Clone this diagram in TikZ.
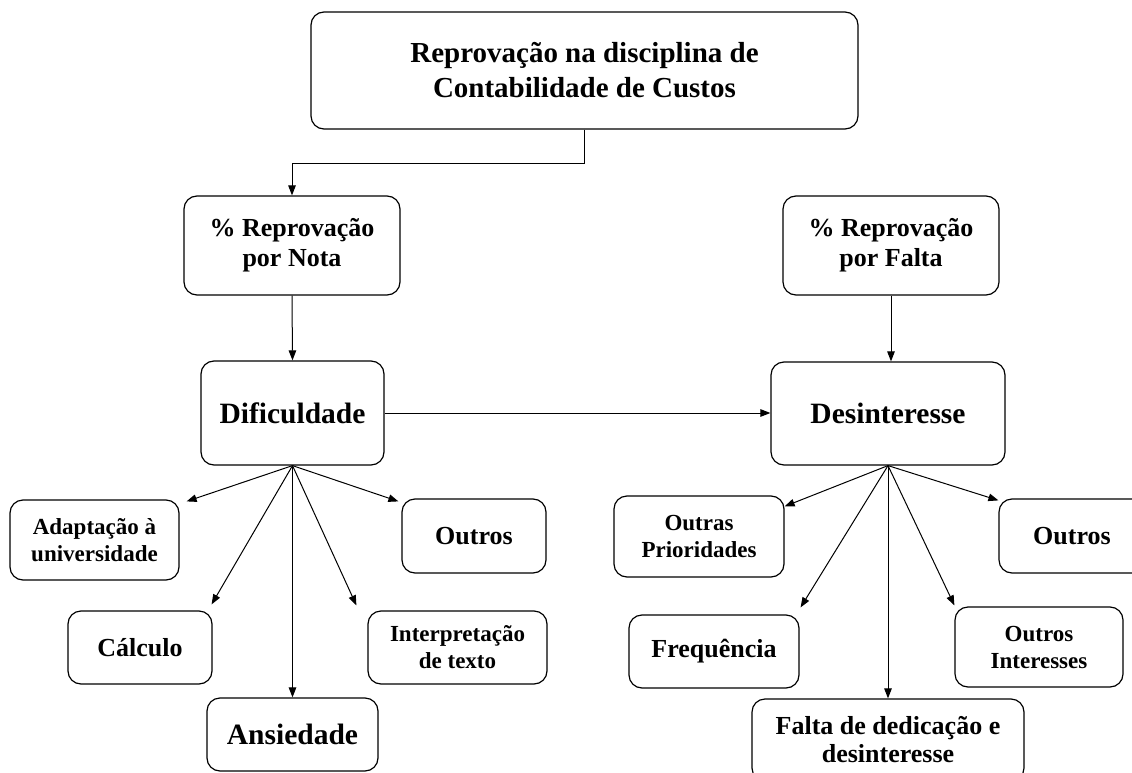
\documentclass[tikz,border=0pt]{standalone}
\usepackage{fontspec}
\setmainfont{Liberation Serif}
\usetikzlibrary{arrows.meta,calc}
\begin{document}
\begin{tikzpicture}[x=1pt,y=-1pt,
  box/.style={draw, line width=1.2pt, rounded corners=13pt, align=center, inner sep=0pt},
  arr/.style={-{Triangle[length=10pt,width=7.5pt]}, line width=1pt},
  ftop/.style={font=\fontsize{29}{35}\selectfont\bfseries},
  fmid/.style={font=\fontsize{29.5}{34}\selectfont\bfseries},
  fpct/.style={font=\fontsize{26}{30}\selectfont\bfseries},
  fsix/.style={font=\fontsize{26}{28}\selectfont\bfseries},
  fsmall/.style={font=\fontsize{23}{27}\selectfont\bfseries}
]
\useasboundingbox (0,0) rectangle (1132,773);
\clip (0,0) rectangle (1132,773);

\node[box, ftop, minimum width=547pt, minimum height=117pt] (top) at (584.5,70.5)
  {Reprovação na disciplina de\\Contabilidade de Custos};
\node[box, fpct, minimum width=216pt, minimum height=99pt] (nota) at (292,245.5)
  {\% Reprovação\\por Nota};
\node[box, fpct, minimum width=216pt, minimum height=99pt] (falta) at (891,245.5)
  {\% Reprovação\\por Falta};
\node[box, fmid, minimum width=183pt, minimum height=104pt] (dif) at (292.5,413)
  {Dificuldade};
\node[box, fmid, minimum width=234pt, minimum height=103pt] (des) at (888,413.5)
  {Desinteresse};

% left group
\node[box, fsmall, minimum width=169pt, minimum height=80pt] (adapt) at (94.5,540)
  {Adaptação à\\universidade};
\node[box, fsix, minimum width=144pt, minimum height=74pt] (outl) at (474,536)
  {Outros};
\node[box, fsix, minimum width=144pt, minimum height=73pt] (calc) at (140,647.5)
  {Cálculo};
\node[box, fmid, minimum width=171pt, minimum height=73pt] (ans) at (292.5,734.5)
  {Ansiedade};
\node[box, fsmall, minimum width=179pt, minimum height=73pt] (interp) at (457.5,647.5)
  {Interpretação\\de texto};

% right group
\node[box, fsmall, minimum width=170pt, minimum height=81pt] (outp) at (699,536.5)
  {Outras\\Prioridades};
\node[box, fsix, minimum width=146pt, minimum height=74pt] (outr) at (1072,536)
  {Outros};
\node[box, fsix, minimum width=170pt, minimum height=73pt] (freq) at (714,651.5)
  {Frequência};
\node[box, fsix, minimum width=272pt, minimum height=82pt] (fded) at (888,740)
  {Falta de dedicação e\\desinteresse};
\node[box, fsmall, minimum width=168pt, minimum height=80pt] (outi) at (1039,647)
  {Outros\\Interesses};

% connectors
\draw[arr] (top.south) -- ++(0,34) -| (nota.north);
\draw[arr] (nota.south) -- (dif.north);
\draw[arr] (falta.south) -- (falta.south |- des.north);
\draw[arr] (dif.east) -- (dif.east -| des.west);

\draw[arr] (dif.south) -- ([shift={(7,2)}]adapt.north east);
\draw[arr] (dif.south) -- ([shift={(-1,-6)}]calc.north east);
\draw[arr] (dif.south) -- (ans.north);
\draw[arr] (dif.south) -- ([shift={(-11,-5)}]interp.north west);
\draw[arr] (dif.south) -- ([shift={(-3,3)}]outl.north west);

\draw[arr] (des.south) -- ([shift={(0,11)}]outp.north east);
\draw[arr] (des.south) -- ([shift={(1,-7)}]freq.north east);
\draw[arr] (des.south) -- (fded.north);
\draw[arr] (des.south) -- ([shift={(0,-1)}]outi.north west);
\draw[arr] (des.south) -- ([shift={(0,2)}]outr.north west);
\end{tikzpicture}
\end{document}
